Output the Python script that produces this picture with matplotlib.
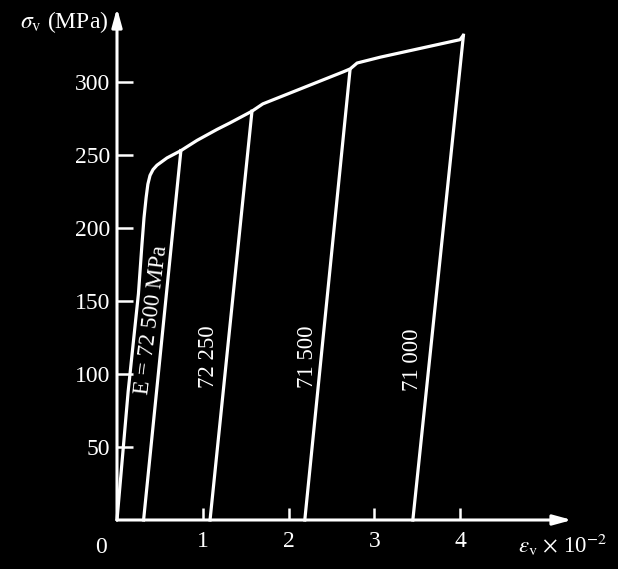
import matplotlib.pyplot as plt

plt.rcParams['font.family'] = ['Liberation Serif', 'DejaVu Serif']
plt.rcParams['mathtext.fontset'] = 'stix'

# strain (x 10^-2) and stress (MPa) of the loading curve
eps_load = [0, 0.13, 0.25, 0.29, 0.315, 0.34, 0.36, 0.385, 0.42, 0.466,
            0.583, 0.745, 0.933, 1.166, 1.318, 1.574, 1.70, 2.64, 2.72, 2.80,
            3.07, 4.0, 4.04]
sig_load = [0, 88, 155, 188, 207, 221, 230, 236, 240, 243,
            248, 253, 260, 267.5, 272, 280, 285, 307, 309, 313,
            317, 329, 332]

# unloading lines: top point -> residual strain at zero stress
unload_top_eps = [0.745, 1.574, 2.717, 4.04]
unload_top_sig = [253, 280, 308, 332]
unload_bottom_eps = [0.31, 1.085, 2.19, 3.45]

moduli = ['E = 72 500 MPa', '72 250', '71 500', '71 000']
label_eps = [0.41, 1.07, 2.22, 3.45]
label_sig = [137, 112, 112, 110]
label_rot = [83, 90, 90, 90]

xticks = [1, 2, 3, 4]
yticks = [50, 100, 150, 200, 250, 300]

W, H = 618, 569
fig = plt.figure(figsize=(W / 100, H / 100), dpi=100, facecolor='black')
x0, y0 = 117, 520
px_per_x = 85.75
px_per_y = 73 / 50
xr, yt = 572, 8
ax = fig.add_axes([x0 / W, (H - y0) / H, (xr - x0) / W, (y0 - yt) / H])
ax.set_facecolor('black')
ax.set_xlim(0, (xr - x0) / px_per_x)
ax.set_ylim(0, (y0 - yt) / px_per_y)

lw = 2.3
ax.plot(eps_load, sig_load, color='white', lw=lw, solid_capstyle='round',
        solid_joinstyle='round', clip_on=False)
for te, ts, be in zip(unload_top_eps, unload_top_sig, unload_bottom_eps):
    ax.plot([te, be], [ts, 0], color='white', lw=lw, clip_on=False)

for txt, e, s, r in zip(moduli, label_eps, label_sig, label_rot):
    ax.text(e, s, txt, rotation=r, color='white', fontsize=16.5,
            ha='center', va='center', rotation_mode='anchor')

for sp in ax.spines.values():
    sp.set_visible(False)

# axes with arrowheads
arrow = dict(arrowstyle='-|>,head_length=1.1,head_width=0.3', color='white',
             lw=2.2, shrinkA=0, shrinkB=0)
ax.annotate('', xy=(0, 1), xytext=(0, 0), xycoords='axes fraction',
            arrowprops=arrow)
ax.annotate('', xy=(1, 0), xytext=(0, 0), xycoords='axes fraction',
            arrowprops=arrow)

ax.set_xticks(xticks)
ax.set_yticks(yticks)
ax.set_xticklabels([str(t) for t in xticks])
ax.set_yticklabels([str(t) for t in yticks])
ax.tick_params(axis='both', direction='in', colors='white', width=1.8,
               labelsize=17, labelcolor='white')
ax.tick_params(axis='x', length=9, pad=8)
ax.tick_params(axis='y', length=11.5, pad=5)
ax.text(-0.035, -0.033, '0', transform=ax.transAxes, color='white',
        fontsize=17, ha='center', va='top')

fig.text(20 / W, 1 - 22 / H, r'$\sigma_{\rm v}$ (MPa)', color='white',
         fontsize=17, ha='left', va='center')
fig.text(518 / W, 1 - 545 / H, r'$\varepsilon_{\rm v}$ $\times$ 10$^{-2}$',
         color='white', fontsize=16.5, ha='left', va='center')

fig.savefig('out.png', dpi=100, facecolor='black')
